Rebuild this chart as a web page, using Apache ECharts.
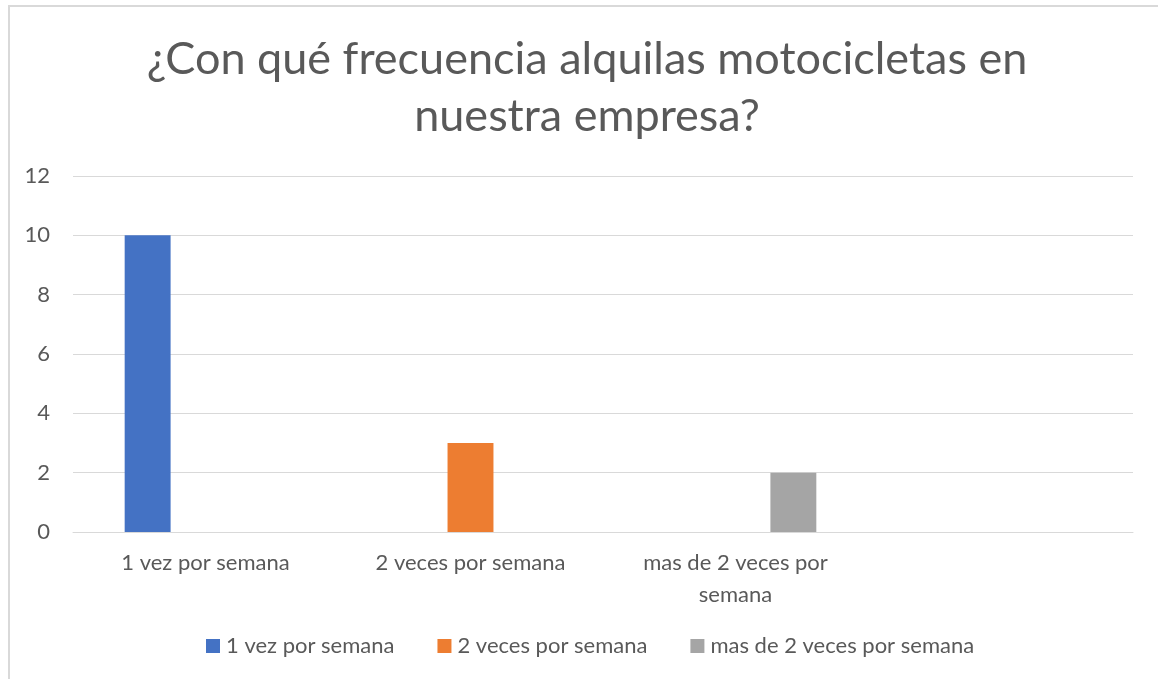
<!DOCTYPE html>
<html>
<head>
<meta charset="utf-8">
<script src="https://cdn.jsdelivr.net/npm/echarts@6/dist/echarts.min.js"></script>
<style>
  html, body { margin: 0; padding: 0; background: #fff; }
  #chart { width: 1158px; height: 679px; }
  #frame {
    position: absolute; left: 8px; top: 5px; width: 1200px; height: 700px;
    border-left: 2px solid #d9d9d9; border-top: 2px solid #d9d9d9;
    pointer-events: none;
  }
</style>
</head>
<body>
<div id="chart"></div>
<div id="frame"></div>
<script>
  // datos
  let categories = ['1 vez por semana', '2 veces por semana', 'mas de 2 veces por\nsemana', ''];
  let seriesNames = ['1 vez por semana', '2 veces por semana', 'mas de 2 veces por semana'];
  let serie1 = [10, null, null, null];
  let serie2 = [null, 3, null, null];
  let serie3 = [null, null, 2, null];
  let colors = ['#4472C4', '#ED7D31', '#A5A5A5'];

  let chartDom = document.getElementById('chart');
  let myChart = echarts.init(chartDom);
  let font = 'Lato';
  let option = {
    color: colors,
    animation: false,
    title: {
      text: '¿Con qué frecuencia alquilas motocicletas en\nnuestra empresa?',
      left: 582,
      textAlign: 'center',
      top: 26,
      padding: 5,
      textStyle: {
        fontFamily: font,
        fontSize: 45,
        fontWeight: 'normal',
        color: '#595959',
        lineHeight: 57
      }
    },
    legend: {
      top: 635,
      left: 206,
      itemWidth: 14,
      itemHeight: 14,
      itemGap: 43,
      icon: 'rect',
      padding: 0,
      textStyle: { fontFamily: font, fontSize: 22, color: '#595959', padding: [0, 0, 0, 1] },
      data: seriesNames
    },
    grid: {
      left: 73,
      right: 25,
      top: 176,
      bottom: 147
    },
    xAxis: {
      type: 'category',
      data: categories,
      axisLine: { lineStyle: { color: '#d9d9d9', width: 1 } },
      axisTick: { show: false },
      axisLabel: {
        fontFamily: font,
        fontSize: 22,
        color: '#595959',
        lineHeight: 32,
        margin: 15,
        interval: 0
      }
    },
    yAxis: {
      type: 'value',
      min: 0,
      max: 12,
      interval: 2,
      axisLine: { show: false },
      axisTick: { show: false },
      splitLine: { lineStyle: { color: '#d9d9d9', width: 1 } },
      axisLabel: { fontFamily: font, fontSize: 22, color: '#595959', margin: 23 }
    },
    series: [
      { name: seriesNames[0], type: 'bar', data: serie1, barGap: '26%', barCategoryGap: '39%' },
      { name: seriesNames[1], type: 'bar', data: serie2, barGap: '26%', barCategoryGap: '39%' },
      { name: seriesNames[2], type: 'bar', data: serie3, barGap: '26%', barCategoryGap: '39%' }
    ]
  };
  option && myChart.setOption(option);
</script>
</body>
</html>
